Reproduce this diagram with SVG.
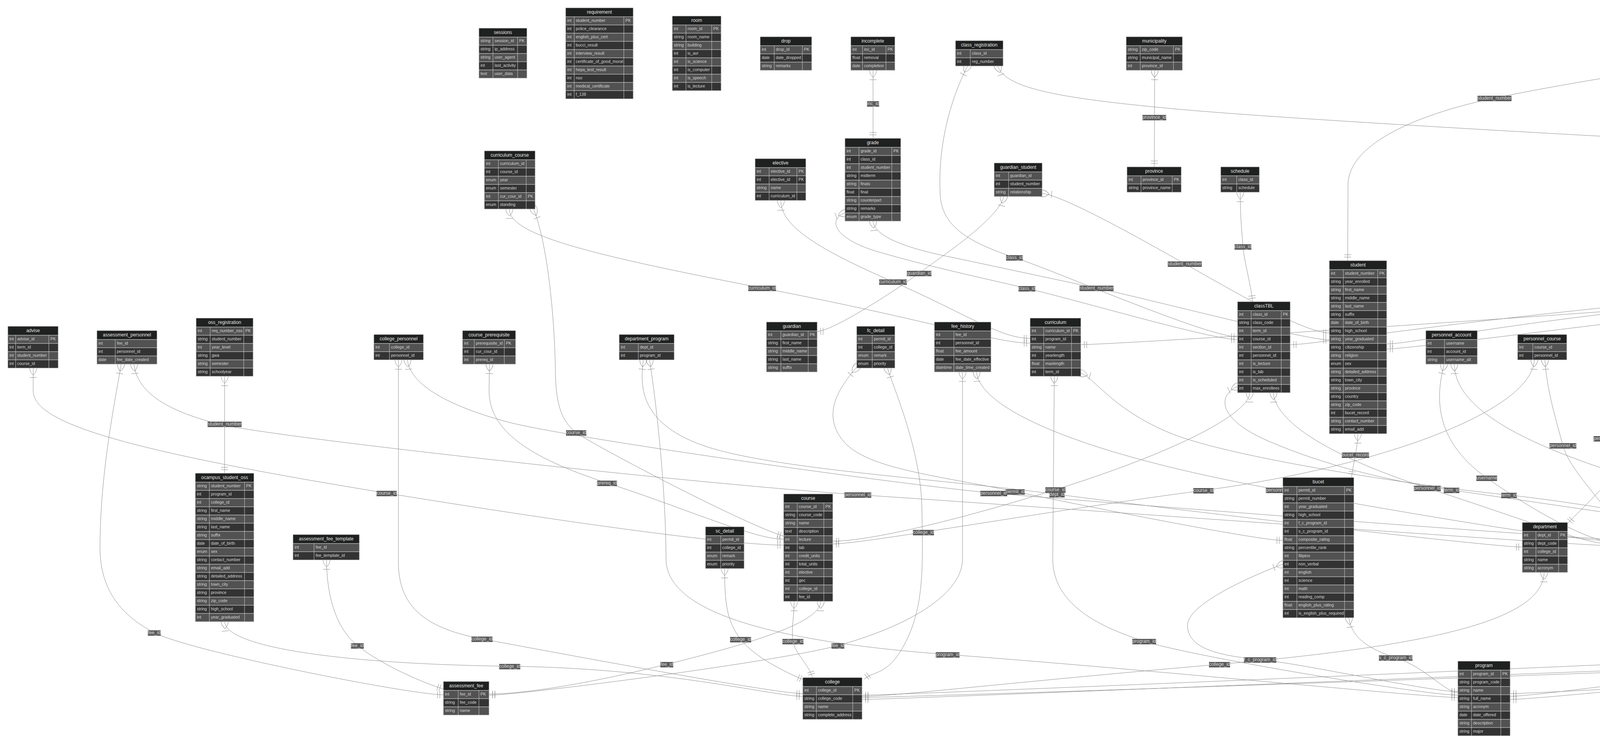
<svg xmlns="http://www.w3.org/2000/svg" width="7222" height="1904" viewBox="0 0 7222 1904">
<style>
.hd{fill:#1f2020;stroke:#cccccc;stroke-width:1}
.ro{fill:#525252;stroke:#cccccc;stroke-width:1}
.re{fill:#333333;stroke:#cccccc;stroke-width:1}
.cs{stroke:#cccccc;stroke-width:1;fill:none}
.t{font-family:"Liberation Sans",Arial,sans-serif;font-size:12px;fill:#e6e6e6;text-anchor:middle}
.a{font-family:"Liberation Sans",Arial,sans-serif;font-size:10.5px;fill:#d4d4d4}
#connectors path{fill:none;stroke:#8c8c8c;stroke-width:1;marker-start:url(#many);marker-end:url(#one)}
.lr{fill:#5a5a5a}
.lt{font-family:"Liberation Sans",Arial,sans-serif;font-size:12px;fill:#d8d8d8;text-anchor:middle}
</style>
<defs>
<marker id="many" markerWidth="45" markerHeight="36" refX="18" refY="18" orient="auto" markerUnits="userSpaceOnUse" overflow="visible"><path d="M0,18 Q18,0 36,18 Q18,36 0,18 M42,9 L42,27" fill="none" stroke="#8c8c8c" stroke-width="1"/></marker>
<marker id="one" markerWidth="18" markerHeight="18" refX="18" refY="9" orient="auto" markerUnits="userSpaceOnUse" overflow="visible"><path d="M3,0 L3,18 M9,0 L9,18" fill="none" stroke="#8c8c8c" stroke-width="1"/></marker>
</defs>
<rect width="7222" height="1904" fill="#ffffff"/>
<g id="connectors">
<path d="M2235,180 L2235,354"/>
<path d="M1304,535 C1304,600 1500,650 1951,737 S2550,878 2637,878"/>
<path d="M1999,514 C1999,580 2100,640 2286,721 S2560,866 2637,866"/>
<path d="M2570,503 C2555,560 2420,650 2353,699 S2130,848 2092,848"/>
<path d="M2668,495 C2720,500 2900,600 3033,675 S3340,852 3403,852"/>
<path d="M2956,180 L2955,427"/>
<path d="M3175,492 C3175,560 3180,600 3182,631 S3200,720 3207,772"/>
<path d="M2477,169 C2430,260 2400,380 2407,500 C2412,580 2480,620 2597,659 S3090,862 3168,862"/>
<path d="M2554,169 C2575,225 2700,250 3000,278 S4200,355 4490,369 S6330,453 6448,453"/>
<path d="M4609,145 C4700,150 5200,195 5537,228 S6390,350 6448,386"/>
<path d="M4495,147 C4300,165 4000,215 3826,251 S3455,360 3451,470 L3450,667"/>
<path d="M2163,545 C2120,560 2130,610 2250,645 S2500,708 2629,738 S3100,869 3168,869"/>
<path d="M2235,566 C2238,600 2300,630 2420,655 S2700,715 2807,737 S3340,870 3403,870"/>
<path d="M3476,1110 C3476,1130 3472,1150 3470,1164 S3462,1200 3460,1222"/>
<path d="M3199,1005 C3199,1060 3000,1160 2702,1253 S2210,1385 2132,1385"/>
<path d="M3260,1005 C3262,1060 3350,1150 3654,1249 S4060,1393 4132,1393"/>
<path d="M3168,989 C3120,1010 3110,1070 3250,1130 S3550,1230 3716,1254 S4650,1392 4721,1392"/>
<path d="M2699,963 L2695,1430 C2695,1540 2800,1600 2929,1641 S3650,1779 3732,1779"/>
<path d="M2767,955 C2800,965 2850,1050 3000,1110 S3600,1240 3863,1267 S4650,1400 4721,1400"/>
<path d="M2464,952 L2464,1430 C2464,1530 2300,1610 2145,1652 S1330,1779 1252,1779"/>
<path d="M2500,952 C2505,1030 2700,1150 3275,1254 S4060,1384 4132,1384"/>
<path d="M2101,1539 C2100,1590 1950,1640 1707,1700 S1320,1776 1252,1776"/>
<path d="M2033,1539 C2033,1580 2025,1610 2030,1641 S2070,1700 2080,1734"/>
<path d="M1855,1455 C1855,1540 1860,1590 1896,1636 S2010,1720 2058,1740"/>
<path d="M2272,942 C2290,1000 2357,1150 2360,1300 C2363,1450 2365,1550 2320,1640 S2240,1715 2212,1738"/>
<path d="M2193,940 C2150,990 2100,1060 2160,1130 S2400,1217 2599,1258 S3220,1383 3284,1383"/>
<path d="M1020,921 L1020,1440 C1020,1560 1100,1610 1234,1635 S1980,1775 2055,1775"/>
<path d="M1043,921 C1050,985 1150,1040 1300,1080 S2300,1240 2544,1262 S4050,1380 4132,1380"/>
<path d="M575,1591 C580,1660 900,1700 1305,1705 S1980,1782 2055,1782"/>
<path d="M575,963 L575,1211"/>
<path d="M85,942 L85,1000 C85,1080 300,1150 990,1262 S1930,1395 2006,1395"/>
<path d="M310,932 C300,1000 256,1200 256,1400 C256,1500 300,1570 395,1619 S1050,1778 1135,1778"/>
<path d="M343,932 C350,1000 420,1050 560,1085 S1800,1240 2196,1266 S4050,1397 4132,1397"/>
<path d="M836,1433 C836,1500 850,1600 915,1652 S1090,1750 1135,1763"/>
<path d="M1253,932 L1252,1000 C1252,1100 1350,1170 1554,1236 S1930,1380 2006,1380"/>
<path d="M1366,535 C1400,620 1420,800 1422,960 C1424,1040 1440,1080 1475,1107 S1900,1340 2006,1372"/>
<path d="M1647,921 C1640,980 1630,1080 1800,1140 S2400,1225 2706,1265 S3820,1400 3897,1400"/>
<path d="M1663,921 C1690,1100 1705,1300 1705,1430 C1705,1560 1950,1640 2426,1675 S3650,1785 3732,1785"/>
<path d="M3953,1465 C3950,1580 3700,1650 3122,1700 S2290,1782 2207,1782"/>
<path d="M3284,1444 C3240,1460 3040,1540 3040,1600 S3120,1678 3226,1688 S3660,1770 3732,1770"/>
<path d="M3453,1581 C3460,1630 3500,1660 3573,1683 S3700,1772 3732,1772"/>
<path d="M3697,932 C3680,1000 3660,1120 3806,1223 S4080,1388 4132,1388"/>
<path d="M3723,932 C3725,1010 3800,1120 4270,1249 S4860,1364 4939,1364"/>
<path d="M3928,921 C3920,1060 3500,1200 3081,1255 S2210,1392 2132,1392"/>
<path d="M3955,921 C3960,1000 3985,1080 4001,1140 S4100,1280 4127,1327"/>
<path d="M4167,921 C4150,1000 4110,1060 4114,1122 S4140,1280 4157,1327"/>
<path d="M4190,921 C4195,1000 4185,1100 4166,1156 S4050,1300 4013,1340"/>
<path d="M4487,932 C4480,1000 4450,1090 4413,1150 S4300,1290 4262,1330"/>
<path d="M4514,932 C4515,1000 4540,1080 4545,1146 S4553,1300 4553,1368"/>
<path d="M5186,921 C5100,1000 4950,1130 4755,1190 S4330,1378 4262,1378"/>
<path d="M5262,921 C5290,1100 5308,1300 5308,1430 C5308,1560 5100,1640 4889,1659 S3950,1782 3866,1782"/>
<path d="M5522,921 C5520,980 5500,1080 5496,1136 S5489,1300 5489,1358"/>
<path d="M5545,921 C5565,1000 5560,1100 5430,1212 S5100,1320 5027,1337"/>
<path d="M5740,492 C5735,540 5724,600 5724,642 S5755,740 5763,793"/>
<path d="M5774,492 C5780,570 5500,660 4569,743 S3380,882 3303,882"/>
<path d="M5996,503 C5980,560 5700,660 4795,735 S3630,880 3550,880"/>
<path d="M6051,503 L6050,1000 C6050,1090 5980,1130 5849,1171 S5200,1364 5114,1364"/>
<path d="M5757,984 C5750,1080 5600,1190 5340,1246 S4920,1380 4839,1380"/>
<path d="M5815,984 C5835,1100 5838,1250 5838,1430 C5838,1560 5500,1650 5118,1678 S3950,1790 3866,1790"/>
<path d="M5853,984 C5930,1120 5940,1300 5940,1440 C5940,1570 5600,1650 5002,1683 S2290,1785 2207,1785"/>
<path d="M6448,502 C6400,520 6300,590 6000,610 S5200,700 4714,748 S2850,882 2767,882"/>
<path d="M6448,517 C6380,540 6250,700 6250,900 C6250,1050 6150,1130 5848,1201 S4920,1385 4839,1385"/>
<path d="M6448,539 C6400,560 6350,700 6350,900 C6350,1070 6250,1150 5563,1233 S4340,1390 4262,1390"/>
<path d="M6627,562 C6640,600 6500,620 6000,652 S5300,705 5006,727 S3630,893 3550,893"/>
<path d="M6627,530 C6700,540 6775,620 6775,760 L6775,1430 C6775,1560 6400,1610 6000,1625 S4800,1670 4335,1691 S2290,1779 2207,1779"/>
<path d="M6550,566 L6551,824"/>
<path d="M6560,952 C6562,1000 6570,1100 6573,1148 S6577,1300 6577,1348"/>
<path d="M6530,952 C6525,1020 6300,1150 5730,1258 S4920,1398 4839,1398"/>
<path d="M6511,1455 C6480,1530 6300,1600 6000,1625 S5500,1680 5213,1699 S3950,1775 3866,1775"/>
<path d="M6592,1455 C6600,1530 6450,1600 6000,1622 S4900,1690 4437,1705 S2290,1790 2207,1790"/>
<path d="M7013,169 C6990,195 6900,260 6836,302 S6660,400 6627,415"/>
<path d="M7080,169 C7085,200 7092,230 7094,258 S7101,320 7101,354"/>
<path d="M7002,548 C6960,560 6935,620 6931,686 S6927,800 6927,851"/>
<path d="M7121,566 C7123,620 7126,660 7126,705 S7127,800 7127,851"/>
<g id="labels">
<rect class="lr" x="2219.5" y="259" width="31" height="14"/><text class="lt" x="2235" y="269">inc_id</text>
<rect class="lr" x="1915.5" y="731" width="71" height="14"/><text class="lt" x="1951" y="741">curriculum_id</text>
<rect class="lr" x="2250.5" y="715" width="71" height="14"/><text class="lt" x="2286" y="725">curriculum_id</text>
<rect class="lr" x="2321.5" y="693" width="63" height="14"/><text class="lt" x="2353" y="703">guardian_id</text>
<rect class="lr" x="2924.5" y="294" width="61" height="14"/><text class="lt" x="2955" y="304">province_id</text>
<rect class="lr" x="2575.5" y="653" width="43" height="14"/><text class="lt" x="2597" y="663">class_id</text>
<rect class="lr" x="2607.5" y="732" width="43" height="14"/><text class="lt" x="2629" y="742">class_id</text>
<rect class="lr" x="2763.5" y="731" width="87" height="14"/><text class="lt" x="2807" y="741">student_number</text>
<rect class="lr" x="2989.5" y="669" width="87" height="14"/><text class="lt" x="3033" y="679">student_number</text>
<rect class="lr" x="3160.5" y="625" width="43" height="14"/><text class="lt" x="3182" y="635">class_id</text>
<rect class="lr" x="3782.5" y="245" width="87" height="14"/><text class="lt" x="3826" y="255">student_number</text>
<rect class="lr" x="4457.5" y="363" width="65" height="14"/><text class="lt" x="4490" y="373">reg_number</text>
<rect class="lr" x="4547.5" y="737" width="43" height="14"/><text class="lt" x="4569" y="747">class_id</text>
<rect class="lr" x="4678.5" y="742" width="71" height="14"/><text class="lt" x="4714" y="752">curriculum_id</text>
<rect class="lr" x="4768.5" y="729" width="53" height="14"/><text class="lt" x="4795" y="739">username</text>
<rect class="lr" x="5504.5" y="222" width="65" height="14"/><text class="lt" x="5537" y="232">reg_number</text>
<rect class="lr" x="5697" y="636" width="54" height="14"/><text class="lt" x="5724" y="646">section_id</text>
<rect class="lr" x="4962.5" y="721" width="87" height="14"/><text class="lt" x="5006" y="731">student_number</text>
<rect class="lr" x="6803.5" y="296" width="65" height="14"/><text class="lt" x="6836" y="306">reg_number</text>
<rect class="lr" x="7056" y="252" width="76" height="14"/><text class="lt" x="7094" y="262">scholarship_id</text>
<rect class="lr" x="6508.5" y="687" width="85" height="14"/><text class="lt" x="6551" y="697">fee_template_id</text>
<rect class="lr" x="6887.5" y="680" width="87" height="14"/><text class="lt" x="6931" y="690">benefits_type_id</text>
<rect class="lr" x="7095.5" y="699" width="61" height="14"/><text class="lt" x="7126" y="709">benefits_id</text>
<rect class="lr" x="531.5" y="1079" width="87" height="14"/><text class="lt" x="575" y="1089">student_number</text>
<rect class="lr" x="964" y="1256" width="52" height="14"/><text class="lt" x="990" y="1266">course_id</text>
<rect class="lr" x="378.5" y="1613" width="33" height="14"/><text class="lt" x="395" y="1623">fee_id</text>
<rect class="lr" x="898.5" y="1646" width="33" height="14"/><text class="lt" x="915" y="1656">fee_id</text>
<rect class="lr" x="1449" y="1101" width="52" height="14"/><text class="lt" x="1475" y="1111">course_id</text>
<rect class="lr" x="1528.5" y="1230" width="51" height="14"/><text class="lt" x="1554" y="1240">prereq_id</text>
<rect class="lr" x="2161.5" y="1260" width="69" height="14"/><text class="lt" x="2196" y="1270">personnel_id</text>
<rect class="lr" x="2337" y="1356" width="54" height="14"/><text class="lt" x="2364" y="1366">college_id</text>
<rect class="lr" x="1207" y="1629" width="54" height="14"/><text class="lt" x="1234" y="1639">college_id</text>
<rect class="lr" x="1869" y="1630" width="54" height="14"/><text class="lt" x="1896" y="1640">college_id</text>
<rect class="lr" x="2003" y="1635" width="54" height="14"/><text class="lt" x="2030" y="1645">college_id</text>
<rect class="lr" x="2128.5" y="1646" width="33" height="14"/><text class="lt" x="2145" y="1656">fee_id</text>
<rect class="lr" x="1690.5" y="1694" width="33" height="14"/><text class="lt" x="1707" y="1704">fee_id</text>
<rect class="lr" x="1278" y="1699" width="54" height="14"/><text class="lt" x="1305" y="1709">college_id</text>
<rect class="lr" x="2395.5" y="1669" width="61" height="14"/><text class="lt" x="2426" y="1679">program_id</text>
<rect class="lr" x="2509.5" y="1256" width="69" height="14"/><text class="lt" x="2544" y="1266">personnel_id</text>
<rect class="lr" x="2574.5" y="1252" width="49" height="14"/><text class="lt" x="2599" y="1262">permit_id</text>
<rect class="lr" x="2676" y="1247" width="52" height="14"/><text class="lt" x="2702" y="1257">course_id</text>
<rect class="lr" x="2686.5" y="1259" width="39" height="14"/><text class="lt" x="2706" y="1269">dept_id</text>
<rect class="lr" x="3055" y="1249" width="52" height="14"/><text class="lt" x="3081" y="1259">course_id</text>
<rect class="lr" x="3240.5" y="1248" width="69" height="14"/><text class="lt" x="3275" y="1258">personnel_id</text>
<rect class="lr" x="3435" y="1158" width="70" height="14"/><text class="lt" x="3470" y="1168">bucet_record</text>
<rect class="lr" x="2898.5" y="1635" width="61" height="14"/><text class="lt" x="2929" y="1645">program_id</text>
<rect class="lr" x="3184.5" y="1682" width="83" height="14"/><text class="lt" x="3226" y="1692">f_c_program_id</text>
<rect class="lr" x="3095" y="1694" width="54" height="14"/><text class="lt" x="3122" y="1704">college_id</text>
<rect class="lr" x="3530" y="1677" width="86" height="14"/><text class="lt" x="3573" y="1687">s_c_program_id</text>
<rect class="lr" x="3966.5" y="1134" width="69" height="14"/><text class="lt" x="4001" y="1144">personnel_id</text>
<rect class="lr" x="4079.5" y="1116" width="69" height="14"/><text class="lt" x="4114" y="1126">personnel_id</text>
<rect class="lr" x="4146.5" y="1150" width="39" height="14"/><text class="lt" x="4166" y="1160">dept_id</text>
<rect class="lr" x="4378.5" y="1144" width="69" height="14"/><text class="lt" x="4413" y="1154">personnel_id</text>
<rect class="lr" x="4516.5" y="1140" width="57" height="14"/><text class="lt" x="4545" y="1150">position_id</text>
<rect class="lr" x="4720.5" y="1184" width="69" height="14"/><text class="lt" x="4755" y="1194">personnel_id</text>
<rect class="lr" x="3779.5" y="1217" width="53" height="14"/><text class="lt" x="3806" y="1227">username</text>
<rect class="lr" x="3619.5" y="1243" width="69" height="14"/><text class="lt" x="3654" y="1253">personnel_id</text>
<rect class="lr" x="3696" y="1248" width="40" height="14"/><text class="lt" x="3716" y="1258">term_id</text>
<rect class="lr" x="3843" y="1261" width="40" height="14"/><text class="lt" x="3863" y="1271">term_id</text>
<rect class="lr" x="4241" y="1243" width="58" height="14"/><text class="lt" x="4270" y="1253">account_id</text>
<rect class="lr" x="4308" y="1685" width="54" height="14"/><text class="lt" x="4335" y="1695">college_id</text>
<rect class="lr" x="4410" y="1699" width="54" height="14"/><text class="lt" x="4437" y="1709">college_id</text>
<rect class="lr" x="5466" y="1130" width="60" height="14"/><text class="lt" x="5496" y="1140">privilege_id</text>
<rect class="lr" x="5401" y="1206" width="58" height="14"/><text class="lt" x="5430" y="1216">account_id</text>
<rect class="lr" x="5320" y="1240" width="40" height="14"/><text class="lt" x="5340" y="1250">term_id</text>
<rect class="lr" x="5528.5" y="1227" width="69" height="14"/><text class="lt" x="5563" y="1237">personnel_id</text>
<rect class="lr" x="5820" y="1165" width="58" height="14"/><text class="lt" x="5849" y="1175">account_id</text>
<rect class="lr" x="5828" y="1195" width="40" height="14"/><text class="lt" x="5848" y="1205">term_id</text>
<rect class="lr" x="5710" y="1252" width="40" height="14"/><text class="lt" x="5730" y="1262">term_id</text>
<rect class="lr" x="4858.5" y="1653" width="61" height="14"/><text class="lt" x="4889" y="1663">program_id</text>
<rect class="lr" x="4975" y="1677" width="54" height="14"/><text class="lt" x="5002" y="1687">college_id</text>
<rect class="lr" x="5087.5" y="1672" width="61" height="14"/><text class="lt" x="5118" y="1682">program_id</text>
<rect class="lr" x="5182.5" y="1693" width="61" height="14"/><text class="lt" x="5213" y="1703">program_id</text>
<rect class="lr" x="6542" y="1142" width="62" height="14"/><text class="lt" x="6573" y="1152">prog_col_id</text>
</g>
</g>
<g id="advise">
<rect class="hd" x="20" y="835" width="129" height="23"/><text class="t" x="84.5" y="850">advise</text>
<rect class="ro" x="20" y="858" width="129" height="21"/><rect class="re" x="20" y="879" width="129" height="21"/><rect class="ro" x="20" y="900" width="129" height="21"/><rect class="re" x="20" y="921" width="129" height="21"/>
<path class="cs" d="M40,858V942M125,858V942"/>
<text class="a" x="24" y="871">int</text><text class="a" x="44" y="871">advise_id</text><text class="a" x="129" y="871">PK</text>
<text class="a" x="24" y="892">int</text><text class="a" x="44" y="892">term_id</text>
<text class="a" x="24" y="913">int</text><text class="a" x="44" y="913">student_number</text>
<text class="a" x="24" y="934">int</text><text class="a" x="44" y="934">course_id</text>
</g>
<g id="assessment_personnel">
<rect class="hd" x="248" y="846" width="154" height="23"/><text class="t" x="325" y="861">assessment_personnel</text>
<rect class="ro" x="248" y="869" width="154" height="21"/><rect class="re" x="248" y="890" width="154" height="21"/><rect class="ro" x="248" y="911" width="154" height="21"/>
<path class="cs" d="M295,869V932"/>
<text class="a" x="252" y="882">int</text><text class="a" x="299" y="882">fee_id</text>
<text class="a" x="252" y="903">int</text><text class="a" x="299" y="903">personnel_id</text>
<text class="a" x="252" y="924">date</text><text class="a" x="299" y="924">fee_date_created</text>
</g>
<g id="oss_registration">
<rect class="hd" x="502" y="814" width="146" height="23"/><text class="t" x="575" y="829">oss_registration</text>
<rect class="ro" x="502" y="837" width="146" height="21"/><rect class="re" x="502" y="858" width="146" height="21"/><rect class="ro" x="502" y="879" width="146" height="21"/><rect class="re" x="502" y="900" width="146" height="21"/><rect class="ro" x="502" y="921" width="146" height="21"/><rect class="re" x="502" y="942" width="146" height="21"/>
<path class="cs" d="M538,837V963M624,837V963"/>
<text class="a" x="506" y="850">int</text><text class="a" x="542" y="850">req_number_oss</text><text class="a" x="628" y="850">PK</text>
<text class="a" x="506" y="871">string</text><text class="a" x="542" y="871">student_number</text>
<text class="a" x="506" y="892">int</text><text class="a" x="542" y="892">year_level</text>
<text class="a" x="506" y="913">string</text><text class="a" x="542" y="913">gwa</text>
<text class="a" x="506" y="934">string</text><text class="a" x="542" y="934">semester</text>
<text class="a" x="506" y="955">string</text><text class="a" x="542" y="955">schoolyear</text>
</g>
<g id="college_personnel">
<rect class="hd" x="957" y="856" width="127" height="23"/><text class="t" x="1020.5" y="871">college_personnel</text>
<rect class="ro" x="957" y="879" width="127" height="21"/><rect class="re" x="957" y="900" width="127" height="21"/>
<path class="cs" d="M997,879V921"/>
<text class="a" x="961" y="892">int</text><text class="a" x="1001" y="892">college_id</text>
<text class="a" x="961" y="913">int</text><text class="a" x="1001" y="913">personnel_id</text>
</g>
<g id="course_prerequisite">
<rect class="hd" x="1184" y="846" width="136" height="23"/><text class="t" x="1252" y="861">course_prerequisite</text>
<rect class="ro" x="1184" y="869" width="136" height="21"/><rect class="re" x="1184" y="890" width="136" height="21"/><rect class="ro" x="1184" y="911" width="136" height="21"/>
<path class="cs" d="M1214,869V932M1291,869V932"/>
<text class="a" x="1188" y="882">int</text><text class="a" x="1218" y="882">prerequisite_id</text><text class="a" x="1295" y="882">PK</text>
<text class="a" x="1188" y="903">int</text><text class="a" x="1218" y="903">cur_cour_id</text>
<text class="a" x="1188" y="924">int</text><text class="a" x="1218" y="924">prereq_id</text>
</g>
<g id="sessions">
<rect class="hd" x="1226" y="72" width="123" height="23"/><text class="t" x="1287.5" y="87">sessions</text>
<rect class="ro" x="1226" y="95" width="123" height="21"/><rect class="re" x="1226" y="116" width="123" height="21"/><rect class="ro" x="1226" y="137" width="123" height="21"/><rect class="re" x="1226" y="158" width="123" height="21"/><rect class="ro" x="1226" y="179" width="123" height="21"/>
<path class="cs" d="M1262,95V200M1325,95V200"/>
<text class="a" x="1230" y="108">string</text><text class="a" x="1266" y="108">session_id</text><text class="a" x="1329" y="108">PK</text>
<text class="a" x="1230" y="129">string</text><text class="a" x="1266" y="129">ip_address</text>
<text class="a" x="1230" y="150">string</text><text class="a" x="1266" y="150">user_agent</text>
<text class="a" x="1230" y="171">int</text><text class="a" x="1266" y="171">last_activity</text>
<text class="a" x="1230" y="192">text</text><text class="a" x="1266" y="192">user_data</text>
</g>
<g id="requirement">
<rect class="hd" x="1448" y="20" width="173" height="23"/><text class="t" x="1534.5" y="35">requirement</text>
<rect class="ro" x="1448" y="43" width="173" height="21"/><rect class="re" x="1448" y="64" width="173" height="21"/><rect class="ro" x="1448" y="85" width="173" height="21"/><rect class="re" x="1448" y="106" width="173" height="21"/><rect class="ro" x="1448" y="127" width="173" height="21"/><rect class="re" x="1448" y="148" width="173" height="21"/><rect class="ro" x="1448" y="169" width="173" height="21"/><rect class="re" x="1448" y="190" width="173" height="21"/><rect class="ro" x="1448" y="211" width="173" height="21"/><rect class="re" x="1448" y="232" width="173" height="21"/>
<path class="cs" d="M1470,43V253M1597,43V253"/>
<text class="a" x="1452" y="56">int</text><text class="a" x="1474" y="56">student_number</text><text class="a" x="1601" y="56">PK</text>
<text class="a" x="1452" y="77">int</text><text class="a" x="1474" y="77">police_clearance</text>
<text class="a" x="1452" y="98">int</text><text class="a" x="1474" y="98">english_plus_cert</text>
<text class="a" x="1452" y="119">int</text><text class="a" x="1474" y="119">bucci_result</text>
<text class="a" x="1452" y="140">int</text><text class="a" x="1474" y="140">interview_result</text>
<text class="a" x="1452" y="161">int</text><text class="a" x="1474" y="161">certificate_of_good_moral</text>
<text class="a" x="1452" y="182">int</text><text class="a" x="1474" y="182">hepa_test_result</text>
<text class="a" x="1452" y="203">int</text><text class="a" x="1474" y="203">nso</text>
<text class="a" x="1452" y="224">int</text><text class="a" x="1474" y="224">medical_certificate</text>
<text class="a" x="1452" y="245">int</text><text class="a" x="1474" y="245">f_138</text>
</g>
<g id="room">
<rect class="hd" x="1721" y="41" width="125" height="23"/><text class="t" x="1783.5" y="56">room</text>
<rect class="ro" x="1721" y="64" width="125" height="21"/><rect class="re" x="1721" y="85" width="125" height="21"/><rect class="ro" x="1721" y="106" width="125" height="21"/><rect class="re" x="1721" y="127" width="125" height="21"/><rect class="ro" x="1721" y="148" width="125" height="21"/><rect class="re" x="1721" y="169" width="125" height="21"/><rect class="ro" x="1721" y="190" width="125" height="21"/><rect class="re" x="1721" y="211" width="125" height="21"/>
<path class="cs" d="M1756,64V232M1822,64V232"/>
<text class="a" x="1725" y="77">int</text><text class="a" x="1760" y="77">room_id</text><text class="a" x="1826" y="77">PK</text>
<text class="a" x="1725" y="98">string</text><text class="a" x="1760" y="98">room_name</text>
<text class="a" x="1725" y="119">string</text><text class="a" x="1760" y="119">building</text>
<text class="a" x="1725" y="140">int</text><text class="a" x="1760" y="140">is_avr</text>
<text class="a" x="1725" y="161">int</text><text class="a" x="1760" y="161">is_science</text>
<text class="a" x="1725" y="182">int</text><text class="a" x="1760" y="182">is_computer</text>
<text class="a" x="1725" y="203">int</text><text class="a" x="1760" y="203">is_speech</text>
<text class="a" x="1725" y="224">int</text><text class="a" x="1760" y="224">is_lecture</text>
</g>
<g id="drop">
<rect class="hd" x="1946" y="94" width="132" height="23"/><text class="t" x="2012" y="109">drop</text>
<rect class="ro" x="1946" y="117" width="132" height="21"/><rect class="re" x="1946" y="138" width="132" height="21"/><rect class="ro" x="1946" y="159" width="132" height="21"/>
<path class="cs" d="M1982,117V180M2054,117V180"/>
<text class="a" x="1950" y="130">int</text><text class="a" x="1986" y="130">drop_id</text><text class="a" x="2058" y="130">PK</text>
<text class="a" x="1950" y="151">date</text><text class="a" x="1986" y="151">date_dropped</text>
<text class="a" x="1950" y="172">string</text><text class="a" x="1986" y="172">remarks</text>
</g>
<g id="incomplete">
<rect class="hd" x="2178" y="94" width="113" height="23"/><text class="t" x="2234.5" y="109">incomplete</text>
<rect class="ro" x="2178" y="117" width="113" height="21"/><rect class="re" x="2178" y="138" width="113" height="21"/><rect class="ro" x="2178" y="159" width="113" height="21"/>
<path class="cs" d="M2208,117V180M2268,117V180"/>
<text class="a" x="2182" y="130">int</text><text class="a" x="2212" y="130">inc_id</text><text class="a" x="2272" y="130">PK</text>
<text class="a" x="2182" y="151">float</text><text class="a" x="2212" y="151">removal</text>
<text class="a" x="2182" y="172">date</text><text class="a" x="2212" y="172">completion</text>
</g>
<g id="curriculum_course">
<rect class="hd" x="1240" y="386" width="130" height="23"/><text class="t" x="1305" y="401">curriculum_course</text>
<rect class="ro" x="1240" y="409" width="130" height="21"/><rect class="re" x="1240" y="430" width="130" height="21"/><rect class="ro" x="1240" y="451" width="130" height="21"/><rect class="re" x="1240" y="472" width="130" height="21"/><rect class="ro" x="1240" y="493" width="130" height="21"/><rect class="re" x="1240" y="514" width="130" height="21"/>
<path class="cs" d="M1276,409V535M1347,409V535"/>
<text class="a" x="1244" y="422">int</text><text class="a" x="1280" y="422">curriculum_id</text>
<text class="a" x="1244" y="443">int</text><text class="a" x="1280" y="443">course_id</text>
<text class="a" x="1244" y="464">enum</text><text class="a" x="1280" y="464">year</text>
<text class="a" x="1244" y="485">enum</text><text class="a" x="1280" y="485">semester</text>
<text class="a" x="1244" y="506">int</text><text class="a" x="1280" y="506">cur_cour_id</text><text class="a" x="1351" y="506">PK</text>
<text class="a" x="1244" y="527">enum</text><text class="a" x="1280" y="527">standing</text>
</g>
<g id="elective">
<rect class="hd" x="1933" y="406" width="130" height="23"/><text class="t" x="1998" y="421">elective</text>
<rect class="ro" x="1933" y="429" width="130" height="21"/><rect class="re" x="1933" y="450" width="130" height="21"/><rect class="ro" x="1933" y="471" width="130" height="21"/><rect class="re" x="1933" y="492" width="130" height="21"/>
<path class="cs" d="M1969,429V513M2040,429V513"/>
<text class="a" x="1937" y="442">int</text><text class="a" x="1973" y="442">elective_id</text><text class="a" x="2044" y="442">PK</text>
<text class="a" x="1937" y="463">int</text><text class="a" x="1973" y="463">elective_id</text><text class="a" x="2044" y="463">PK</text>
<text class="a" x="1937" y="484">string</text><text class="a" x="1973" y="484">name</text>
<text class="a" x="1937" y="505">int</text><text class="a" x="1973" y="505">curriculum_id</text>
</g>
<g id="grade">
<rect class="hd" x="2163" y="354" width="143" height="23"/><text class="t" x="2234.5" y="369">grade</text>
<rect class="ro" x="2163" y="377" width="143" height="21"/><rect class="re" x="2163" y="398" width="143" height="21"/><rect class="ro" x="2163" y="419" width="143" height="21"/><rect class="re" x="2163" y="440" width="143" height="21"/><rect class="ro" x="2163" y="461" width="143" height="21"/><rect class="re" x="2163" y="482" width="143" height="21"/><rect class="ro" x="2163" y="503" width="143" height="21"/><rect class="re" x="2163" y="524" width="143" height="21"/><rect class="ro" x="2163" y="545" width="143" height="21"/>
<path class="cs" d="M2199,377V566M2283,377V566"/>
<text class="a" x="2167" y="390">int</text><text class="a" x="2203" y="390">grade_id</text><text class="a" x="2287" y="390">PK</text>
<text class="a" x="2167" y="411">int</text><text class="a" x="2203" y="411">class_id</text>
<text class="a" x="2167" y="432">int</text><text class="a" x="2203" y="432">student_number</text>
<text class="a" x="2167" y="453">string</text><text class="a" x="2203" y="453">midterm</text>
<text class="a" x="2167" y="474">string</text><text class="a" x="2203" y="474">finals</text>
<text class="a" x="2167" y="495">float</text><text class="a" x="2203" y="495">final</text>
<text class="a" x="2167" y="516">string</text><text class="a" x="2203" y="516">counterpart</text>
<text class="a" x="2167" y="537">string</text><text class="a" x="2203" y="537">remarks</text>
<text class="a" x="2167" y="558">enum</text><text class="a" x="2203" y="558">grade_type</text>
</g>
<g id="department_program">
<rect class="hd" x="1585" y="856" width="141" height="23"/><text class="t" x="1655.5" y="871">department_program</text>
<rect class="ro" x="1585" y="879" width="141" height="21"/><rect class="re" x="1585" y="900" width="141" height="21"/>
<path class="cs" d="M1634,879V921"/>
<text class="a" x="1589" y="892">int</text><text class="a" x="1638" y="892">dept_id</text>
<text class="a" x="1589" y="913">int</text><text class="a" x="1638" y="913">program_id</text>
</g>
<g id="guardian">
<rect class="hd" x="1962" y="824" width="130" height="23"/><text class="t" x="2027" y="839">guardian</text>
<rect class="ro" x="1962" y="847" width="130" height="21"/><rect class="re" x="1962" y="868" width="130" height="21"/><rect class="ro" x="1962" y="889" width="130" height="21"/><rect class="re" x="1962" y="910" width="130" height="21"/><rect class="ro" x="1962" y="931" width="130" height="21"/>
<path class="cs" d="M1999,847V952M2069,847V952"/>
<text class="a" x="1966" y="860">int</text><text class="a" x="2003" y="860">guardian_id</text><text class="a" x="2073" y="860">PK</text>
<text class="a" x="1966" y="881">string</text><text class="a" x="2003" y="881">first_name</text>
<text class="a" x="1966" y="902">string</text><text class="a" x="2003" y="902">middle_name</text>
<text class="a" x="1966" y="923">string</text><text class="a" x="2003" y="923">last_name</text>
<text class="a" x="1966" y="944">string</text><text class="a" x="2003" y="944">suffix</text>
</g>
<g id="fc_detail">
<rect class="hd" x="2193" y="835" width="98" height="23"/><text class="t" x="2242" y="850">fc_detail</text>
<rect class="ro" x="2193" y="858" width="98" height="21"/><rect class="re" x="2193" y="879" width="98" height="21"/><rect class="ro" x="2193" y="900" width="98" height="21"/><rect class="re" x="2193" y="921" width="98" height="21"/>
<path class="cs" d="M2233,858V942"/>
<text class="a" x="2197" y="871">int</text><text class="a" x="2237" y="871">permit_id</text>
<text class="a" x="2197" y="892">int</text><text class="a" x="2237" y="892">college_id</text>
<text class="a" x="2197" y="913">enum</text><text class="a" x="2237" y="913">remark</text>
<text class="a" x="2197" y="934">enum</text><text class="a" x="2237" y="934">priority</text>
</g>
<g id="fee_history">
<rect class="hd" x="2392" y="824" width="145" height="23"/><text class="t" x="2464.5" y="839">fee_history</text>
<rect class="ro" x="2392" y="847" width="145" height="21"/><rect class="re" x="2392" y="868" width="145" height="21"/><rect class="ro" x="2392" y="889" width="145" height="21"/><rect class="re" x="2392" y="910" width="145" height="21"/><rect class="ro" x="2392" y="931" width="145" height="21"/>
<path class="cs" d="M2442,847V952"/>
<text class="a" x="2396" y="860">int</text><text class="a" x="2446" y="860">fee_id</text>
<text class="a" x="2396" y="881">int</text><text class="a" x="2446" y="881">personnel_id</text>
<text class="a" x="2396" y="902">float</text><text class="a" x="2446" y="902">fee_amount</text>
<text class="a" x="2396" y="923">date</text><text class="a" x="2446" y="923">fee_date_effective</text>
<text class="a" x="2396" y="944">datetime</text><text class="a" x="2446" y="944">date_time_created</text>
</g>
<g id="class_registration">
<rect class="hd" x="2446" y="104" width="122" height="23"/><text class="t" x="2507" y="119">class_registration</text>
<rect class="ro" x="2446" y="127" width="122" height="21"/><rect class="re" x="2446" y="148" width="122" height="21"/>
<path class="cs" d="M2484,127V169"/>
<text class="a" x="2450" y="140">int</text><text class="a" x="2488" y="140">class_id</text>
<text class="a" x="2450" y="161">int</text><text class="a" x="2488" y="161">reg_number</text>
</g>
<g id="municipality">
<rect class="hd" x="2883" y="94" width="144" height="23"/><text class="t" x="2955" y="109">municipality</text>
<rect class="ro" x="2883" y="117" width="144" height="21"/><rect class="re" x="2883" y="138" width="144" height="21"/><rect class="ro" x="2883" y="159" width="144" height="21"/>
<path class="cs" d="M2919,117V180M3004,117V180"/>
<text class="a" x="2887" y="130">string</text><text class="a" x="2923" y="130">zip_code</text><text class="a" x="3008" y="130">PK</text>
<text class="a" x="2887" y="151">string</text><text class="a" x="2923" y="151">municipal_name</text>
<text class="a" x="2887" y="172">int</text><text class="a" x="2923" y="172">province_id</text>
</g>
<g id="guardian_student">
<rect class="hd" x="2545" y="417" width="123" height="23"/><text class="t" x="2606.5" y="432">guardian_student</text>
<rect class="ro" x="2545" y="440" width="123" height="21"/><rect class="re" x="2545" y="461" width="123" height="21"/><rect class="ro" x="2545" y="482" width="123" height="21"/>
<path class="cs" d="M2582,440V503"/>
<text class="a" x="2549" y="453">int</text><text class="a" x="2586" y="453">guardian_id</text>
<text class="a" x="2549" y="474">int</text><text class="a" x="2586" y="474">student_number</text>
<text class="a" x="2549" y="495">string</text><text class="a" x="2586" y="495">relationship</text>
</g>
<g id="province">
<rect class="hd" x="2885" y="427" width="139" height="23"/><text class="t" x="2954.5" y="442">province</text>
<rect class="ro" x="2885" y="450" width="139" height="21"/><rect class="re" x="2885" y="471" width="139" height="21"/>
<path class="cs" d="M2921,450V492M3001,450V492"/>
<text class="a" x="2889" y="463">int</text><text class="a" x="2925" y="463">province_id</text><text class="a" x="3005" y="463">PK</text>
<text class="a" x="2889" y="484">string</text><text class="a" x="2925" y="484">province_name</text>
</g>
<g id="schedule">
<rect class="hd" x="3125" y="427" width="99" height="23"/><text class="t" x="3174.5" y="442">schedule</text>
<rect class="ro" x="3125" y="450" width="99" height="21"/><rect class="re" x="3125" y="471" width="99" height="21"/>
<path class="cs" d="M3166,450V492"/>
<text class="a" x="3129" y="463">int</text><text class="a" x="3170" y="463">class_id</text>
<text class="a" x="3129" y="484">string</text><text class="a" x="3170" y="484">schedule</text>
</g>
<g id="student">
<rect class="hd" x="3403" y="667" width="147" height="23"/><text class="t" x="3476.5" y="682">student</text>
<rect class="ro" x="3403" y="690" width="147" height="21"/><rect class="re" x="3403" y="711" width="147" height="21"/><rect class="ro" x="3403" y="732" width="147" height="21"/><rect class="re" x="3403" y="753" width="147" height="21"/><rect class="ro" x="3403" y="774" width="147" height="21"/><rect class="re" x="3403" y="795" width="147" height="21"/><rect class="ro" x="3403" y="816" width="147" height="21"/><rect class="re" x="3403" y="837" width="147" height="21"/><rect class="ro" x="3403" y="858" width="147" height="21"/><rect class="re" x="3403" y="879" width="147" height="21"/><rect class="ro" x="3403" y="900" width="147" height="21"/><rect class="re" x="3403" y="921" width="147" height="21"/><rect class="ro" x="3403" y="942" width="147" height="21"/><rect class="re" x="3403" y="963" width="147" height="21"/><rect class="ro" x="3403" y="984" width="147" height="21"/><rect class="re" x="3403" y="1005" width="147" height="21"/><rect class="ro" x="3403" y="1026" width="147" height="21"/><rect class="re" x="3403" y="1047" width="147" height="21"/><rect class="ro" x="3403" y="1068" width="147" height="21"/><rect class="re" x="3403" y="1089" width="147" height="21"/>
<path class="cs" d="M3439,690V1110M3527,690V1110"/>
<text class="a" x="3407" y="703">int</text><text class="a" x="3443" y="703">student_number</text><text class="a" x="3531" y="703">PK</text>
<text class="a" x="3407" y="724">string</text><text class="a" x="3443" y="724">year_enrolled</text>
<text class="a" x="3407" y="745">string</text><text class="a" x="3443" y="745">first_name</text>
<text class="a" x="3407" y="766">string</text><text class="a" x="3443" y="766">middle_name</text>
<text class="a" x="3407" y="787">string</text><text class="a" x="3443" y="787">last_name</text>
<text class="a" x="3407" y="808">string</text><text class="a" x="3443" y="808">suffix</text>
<text class="a" x="3407" y="829">date</text><text class="a" x="3443" y="829">date_of_birth</text>
<text class="a" x="3407" y="850">string</text><text class="a" x="3443" y="850">high_school</text>
<text class="a" x="3407" y="871">string</text><text class="a" x="3443" y="871">year_graduated</text>
<text class="a" x="3407" y="892">string</text><text class="a" x="3443" y="892">citizenship</text>
<text class="a" x="3407" y="913">string</text><text class="a" x="3443" y="913">religion</text>
<text class="a" x="3407" y="934">enum</text><text class="a" x="3443" y="934">sex</text>
<text class="a" x="3407" y="955">string</text><text class="a" x="3443" y="955">detailed_address</text>
<text class="a" x="3407" y="976">string</text><text class="a" x="3443" y="976">town_city</text>
<text class="a" x="3407" y="997">string</text><text class="a" x="3443" y="997">province</text>
<text class="a" x="3407" y="1018">string</text><text class="a" x="3443" y="1018">country</text>
<text class="a" x="3407" y="1039">string</text><text class="a" x="3443" y="1039">zip_code</text>
<text class="a" x="3407" y="1060">int</text><text class="a" x="3443" y="1060">bucet_record</text>
<text class="a" x="3407" y="1081">string</text><text class="a" x="3443" y="1081">contact_number</text>
<text class="a" x="3407" y="1102">string</text><text class="a" x="3443" y="1102">email_add</text>
</g>
<g id="classTBL">
<rect class="hd" x="3168" y="772" width="135" height="23"/><text class="t" x="3235.5" y="787">classTBL</text>
<rect class="ro" x="3168" y="795" width="135" height="21"/><rect class="re" x="3168" y="816" width="135" height="21"/><rect class="ro" x="3168" y="837" width="135" height="21"/><rect class="re" x="3168" y="858" width="135" height="21"/><rect class="ro" x="3168" y="879" width="135" height="21"/><rect class="re" x="3168" y="900" width="135" height="21"/><rect class="ro" x="3168" y="921" width="135" height="21"/><rect class="re" x="3168" y="942" width="135" height="21"/><rect class="ro" x="3168" y="963" width="135" height="21"/><rect class="re" x="3168" y="984" width="135" height="21"/>
<path class="cs" d="M3203,795V1005M3280,795V1005"/>
<text class="a" x="3172" y="808">int</text><text class="a" x="3207" y="808">class_id</text><text class="a" x="3284" y="808">PK</text>
<text class="a" x="3172" y="829">string</text><text class="a" x="3207" y="829">class_code</text>
<text class="a" x="3172" y="850">int</text><text class="a" x="3207" y="850">term_id</text>
<text class="a" x="3172" y="871">int</text><text class="a" x="3207" y="871">course_id</text>
<text class="a" x="3172" y="892">int</text><text class="a" x="3207" y="892">section_id</text>
<text class="a" x="3172" y="913">int</text><text class="a" x="3207" y="913">personnel_id</text>
<text class="a" x="3172" y="934">int</text><text class="a" x="3207" y="934">is_lecture</text>
<text class="a" x="3172" y="955">int</text><text class="a" x="3207" y="955">is_lab</text>
<text class="a" x="3172" y="976">int</text><text class="a" x="3207" y="976">is_scheduled</text>
<text class="a" x="3172" y="997">int</text><text class="a" x="3207" y="997">max_enrollees</text>
</g>
<g id="curriculum">
<rect class="hd" x="2637" y="814" width="130" height="23"/><text class="t" x="2702" y="829">curriculum</text>
<rect class="ro" x="2637" y="837" width="130" height="21"/><rect class="re" x="2637" y="858" width="130" height="21"/><rect class="ro" x="2637" y="879" width="130" height="21"/><rect class="re" x="2637" y="900" width="130" height="21"/><rect class="ro" x="2637" y="921" width="130" height="21"/><rect class="re" x="2637" y="942" width="130" height="21"/>
<path class="cs" d="M2672,837V963M2743,837V963"/>
<text class="a" x="2641" y="850">int</text><text class="a" x="2676" y="850">curriculum_id</text><text class="a" x="2747" y="850">PK</text>
<text class="a" x="2641" y="871">int</text><text class="a" x="2676" y="871">program_id</text>
<text class="a" x="2641" y="892">string</text><text class="a" x="2676" y="892">name</text>
<text class="a" x="2641" y="913">int</text><text class="a" x="2676" y="913">yearlength</text>
<text class="a" x="2641" y="934">float</text><text class="a" x="2676" y="934">maxlength</text>
<text class="a" x="2641" y="955">int</text><text class="a" x="2676" y="955">term_id</text>
</g>
<g id="gwa">
<rect class="hd" x="4495" y="94" width="114" height="23"/><text class="t" x="4552" y="109">gwa</text>
<rect class="ro" x="4495" y="117" width="114" height="21"/><rect class="re" x="4495" y="138" width="114" height="21"/><rect class="ro" x="4495" y="159" width="114" height="21"/>
<path class="cs" d="M4524,117V180"/>
<text class="a" x="4499" y="130">int</text><text class="a" x="4528" y="130">student_number</text>
<text class="a" x="4499" y="151">int</text><text class="a" x="4528" y="151">reg_number</text>
<text class="a" x="4499" y="172">float</text><text class="a" x="4528" y="172">gwa</text>
</g>
<g id="personnel_account">
<rect class="hd" x="3650" y="846" width="132" height="23"/><text class="t" x="3716" y="861">personnel_account</text>
<rect class="ro" x="3650" y="869" width="132" height="21"/><rect class="re" x="3650" y="890" width="132" height="21"/><rect class="ro" x="3650" y="911" width="132" height="21"/>
<path class="cs" d="M3698,869V932"/>
<text class="a" x="3654" y="882">int</text><text class="a" x="3702" y="882">username</text>
<text class="a" x="3654" y="903">int</text><text class="a" x="3702" y="903">account_id</text>
<text class="a" x="3654" y="924">string</text><text class="a" x="3702" y="924">username_alt</text>
</g>
<g id="personnel_course">
<rect class="hd" x="3885" y="856" width="126" height="23"/><text class="t" x="3948" y="871">personnel_course</text>
<rect class="ro" x="3885" y="879" width="126" height="21"/><rect class="re" x="3885" y="900" width="126" height="21"/>
<path class="cs" d="M3924,879V921"/>
<text class="a" x="3889" y="892">int</text><text class="a" x="3928" y="892">course_id</text>
<text class="a" x="3889" y="913">int</text><text class="a" x="3928" y="913">personnel_id</text>
</g>
<g id="personnel_department">
<rect class="hd" x="4110" y="856" width="151" height="23"/><text class="t" x="4185.5" y="871">personnel_department</text>
<rect class="ro" x="4110" y="879" width="151" height="21"/><rect class="re" x="4110" y="900" width="151" height="21"/>
<path class="cs" d="M4162,879V921"/>
<text class="a" x="4114" y="892">int</text><text class="a" x="4166" y="892">personnel_id</text>
<text class="a" x="4114" y="913">int</text><text class="a" x="4166" y="913">dept_id</text>
</g>
<g id="personnel_position">
<rect class="hd" x="4438" y="846" width="130" height="23"/><text class="t" x="4503" y="861">personnel_position</text>
<rect class="ro" x="4438" y="869" width="130" height="21"/><rect class="re" x="4438" y="890" width="130" height="21"/><rect class="ro" x="4438" y="911" width="130" height="21"/>
<path class="cs" d="M4479,869V932"/>
<text class="a" x="4442" y="882">int</text><text class="a" x="4483" y="882">personnel_id</text>
<text class="a" x="4442" y="903">int</text><text class="a" x="4483" y="903">position_id</text>
<text class="a" x="4442" y="924">int</text><text class="a" x="4483" y="924">current</text>
</g>
<g id="section_class">
<rect class="hd" x="5706" y="427" width="102" height="23"/><text class="t" x="5757" y="442">section_class</text>
<rect class="ro" x="5706" y="450" width="102" height="21"/><rect class="re" x="5706" y="471" width="102" height="21"/>
<path class="cs" d="M5739,450V492"/>
<text class="a" x="5710" y="463">int</text><text class="a" x="5743" y="463">section_id</text>
<text class="a" x="5710" y="484">int</text><text class="a" x="5743" y="484">class_id</text>
</g>
<g id="student_account">
<rect class="hd" x="5993" y="417" width="118" height="23"/><text class="t" x="6052" y="432">student_account</text>
<rect class="ro" x="5993" y="440" width="118" height="21"/><rect class="re" x="5993" y="461" width="118" height="21"/><rect class="ro" x="5993" y="482" width="118" height="21"/>
<path class="cs" d="M6033,440V503"/>
<text class="a" x="5997" y="453">int</text><text class="a" x="6037" y="453">username</text>
<text class="a" x="5997" y="474">int</text><text class="a" x="6037" y="474">account_id</text>
<text class="a" x="5997" y="495">string</text><text class="a" x="6037" y="495">username_alt</text>
</g>
<g id="position_program">
<rect class="hd" x="5189" y="856" width="122" height="23"/><text class="t" x="5250" y="871">position_program</text>
<rect class="ro" x="5189" y="879" width="122" height="21"/><rect class="re" x="5189" y="900" width="122" height="21"/>
<path class="cs" d="M5226,879V921"/>
<text class="a" x="5193" y="892">int</text><text class="a" x="5230" y="892">personnel_id</text>
<text class="a" x="5193" y="913">int</text><text class="a" x="5230" y="913">program_id</text>
</g>
<g id="privilege_account">
<rect class="hd" x="5469" y="856" width="124" height="23"/><text class="t" x="5531" y="871">privilege_account</text>
<rect class="ro" x="5469" y="879" width="124" height="21"/><rect class="re" x="5469" y="900" width="124" height="21"/>
<path class="cs" d="M5510,879V921"/>
<text class="a" x="5473" y="892">int</text><text class="a" x="5514" y="892">privilege_id</text>
<text class="a" x="5473" y="913">int</text><text class="a" x="5514" y="913">account_id</text>
</g>
<g id="section">
<rect class="hd" x="5737" y="793" width="120" height="23"/><text class="t" x="5797" y="808">section</text>
<rect class="ro" x="5737" y="816" width="120" height="21"/><rect class="re" x="5737" y="837" width="120" height="21"/><rect class="ro" x="5737" y="858" width="120" height="21"/><rect class="re" x="5737" y="879" width="120" height="21"/><rect class="ro" x="5737" y="900" width="120" height="21"/><rect class="re" x="5737" y="921" width="120" height="21"/><rect class="ro" x="5737" y="942" width="120" height="21"/><rect class="re" x="5737" y="963" width="120" height="21"/>
<path class="cs" d="M5772,816V984M5834,816V984"/>
<text class="a" x="5741" y="829">int</text><text class="a" x="5776" y="829">section_id</text><text class="a" x="5838" y="829">PK</text>
<text class="a" x="5741" y="850">string</text><text class="a" x="5776" y="850">name</text>
<text class="a" x="5741" y="871">int</text><text class="a" x="5776" y="871">term_id</text>
<text class="a" x="5741" y="892">string</text><text class="a" x="5776" y="892">major</text>
<text class="a" x="5741" y="913">string</text><text class="a" x="5776" y="913">section</text>
<text class="a" x="5741" y="934">int</text><text class="a" x="5776" y="934">year</text>
<text class="a" x="5741" y="955">int</text><text class="a" x="5776" y="955">program_id</text>
<text class="a" x="5741" y="976">int</text><text class="a" x="5776" y="976">college_id</text>
</g>
<g id="scholarship_registration">
<rect class="hd" x="6994" y="104" width="157" height="23"/><text class="t" x="7072.5" y="119">scholarship_registration</text>
<rect class="ro" x="6994" y="127" width="157" height="21"/><rect class="re" x="6994" y="148" width="157" height="21"/>
<path class="cs" d="M7045,127V169"/>
<text class="a" x="6998" y="140">int</text><text class="a" x="7049" y="140">reg_number</text>
<text class="a" x="6998" y="161">int</text><text class="a" x="7049" y="161">scholarship_id</text>
</g>
<g id="registration">
<rect class="hd" x="6448" y="354" width="179" height="23"/><text class="t" x="6537.5" y="369">registration</text>
<rect class="ro" x="6448" y="377" width="179" height="21"/><rect class="re" x="6448" y="398" width="179" height="21"/><rect class="ro" x="6448" y="419" width="179" height="21"/><rect class="re" x="6448" y="440" width="179" height="21"/><rect class="ro" x="6448" y="461" width="179" height="21"/><rect class="re" x="6448" y="482" width="179" height="21"/><rect class="ro" x="6448" y="503" width="179" height="21"/><rect class="re" x="6448" y="524" width="179" height="21"/><rect class="ro" x="6448" y="545" width="179" height="21"/>
<path class="cs" d="M6505,377V566M6603,377V566"/>
<text class="a" x="6452" y="390">int</text><text class="a" x="6509" y="390">reg_number</text><text class="a" x="6607" y="390">PK</text>
<text class="a" x="6452" y="411">int</text><text class="a" x="6509" y="411">student_number</text>
<text class="a" x="6452" y="432">int</text><text class="a" x="6509" y="432">term_id</text>
<text class="a" x="6452" y="453">int</text><text class="a" x="6509" y="453">personnel_id</text>
<text class="a" x="6452" y="474">int</text><text class="a" x="6509" y="474">fee_template_id</text>
<text class="a" x="6452" y="495">int</text><text class="a" x="6509" y="495">curriculum_id</text>
<text class="a" x="6452" y="516">int</text><text class="a" x="6509" y="516">college_id</text>
<text class="a" x="6452" y="537">enum</text><text class="a" x="6509" y="537">year_level</text>
<text class="a" x="6452" y="558">timestamp</text><text class="a" x="6509" y="558">datetime_assessed</text>
</g>
<g id="scholarship">
<rect class="hd" x="7002" y="354" width="200" height="23"/><text class="t" x="7102" y="369">scholarship</text>
<rect class="ro" x="7002" y="377" width="200" height="21"/><rect class="re" x="7002" y="398" width="200" height="21"/><rect class="ro" x="7002" y="419" width="200" height="21"/><rect class="re" x="7002" y="440" width="200" height="21"/><rect class="ro" x="7002" y="461" width="200" height="21"/><rect class="re" x="7002" y="482" width="200" height="21"/><rect class="ro" x="7002" y="503" width="200" height="21"/><rect class="re" x="7002" y="524" width="200" height="21"/><rect class="ro" x="7002" y="545" width="200" height="21"/>
<path class="cs" d="M7037,377V566M7178,377V566"/>
<text class="a" x="7006" y="390">int</text><text class="a" x="7041" y="390">scholarship_id</text><text class="a" x="7182" y="390">PK</text>
<text class="a" x="7006" y="411">string</text><text class="a" x="7041" y="411">scholarship_name</text>
<text class="a" x="7006" y="432">string</text><text class="a" x="7041" y="432">scholarship_contact_number</text>
<text class="a" x="7006" y="453">string</text><text class="a" x="7041" y="453">email_address</text>
<text class="a" x="7006" y="474">string</text><text class="a" x="7041" y="474">type</text>
<text class="a" x="7006" y="495">int</text><text class="a" x="7041" y="495">scholarship_type</text>
<text class="a" x="7006" y="516">int</text><text class="a" x="7041" y="516">amount</text>
<text class="a" x="7006" y="537">string</text><text class="a" x="7041" y="537">status</text>
<text class="a" x="7006" y="558">string</text><text class="a" x="7041" y="558">specifications</text>
</g>
<g id="fee_template">
<rect class="hd" x="6482" y="824" width="141" height="23"/><text class="t" x="6552.5" y="839">fee_template</text>
<rect class="ro" x="6482" y="847" width="141" height="21"/><rect class="re" x="6482" y="868" width="141" height="21"/><rect class="ro" x="6482" y="889" width="141" height="21"/><rect class="re" x="6482" y="910" width="141" height="21"/><rect class="ro" x="6482" y="931" width="141" height="21"/>
<path class="cs" d="M6517,847V952M6599,847V952"/>
<text class="a" x="6486" y="860">int</text><text class="a" x="6521" y="860">fee_template_id</text><text class="a" x="6603" y="860">PK</text>
<text class="a" x="6486" y="881">string</text><text class="a" x="6521" y="881">template_name</text>
<text class="a" x="6486" y="902">int</text><text class="a" x="6521" y="902">term_id</text>
<text class="a" x="6486" y="923">int</text><text class="a" x="6521" y="923">prog_col_id</text>
<text class="a" x="6486" y="944">int</text><text class="a" x="6521" y="944">year</text>
</g>
<g id="benefits_list">
<rect class="hd" x="6878" y="851" width="100" height="75"/><text class="t" x="6928" y="893">benefits_list</text>
</g>
<g id="benefits">
<rect class="hd" x="7077" y="851" width="100" height="75"/><text class="t" x="7127" y="893">benefits</text>
</g>
<g id="ocampus_student_oss">
<rect class="hd" x="500" y="1211" width="150" height="23"/><text class="t" x="575" y="1226">ocampus_student_oss</text>
<rect class="ro" x="500" y="1234" width="150" height="21"/><rect class="re" x="500" y="1255" width="150" height="21"/><rect class="ro" x="500" y="1276" width="150" height="21"/><rect class="re" x="500" y="1297" width="150" height="21"/><rect class="ro" x="500" y="1318" width="150" height="21"/><rect class="re" x="500" y="1339" width="150" height="21"/><rect class="ro" x="500" y="1360" width="150" height="21"/><rect class="re" x="500" y="1381" width="150" height="21"/><rect class="ro" x="500" y="1402" width="150" height="21"/><rect class="re" x="500" y="1423" width="150" height="21"/><rect class="ro" x="500" y="1444" width="150" height="21"/><rect class="re" x="500" y="1465" width="150" height="21"/><rect class="ro" x="500" y="1486" width="150" height="21"/><rect class="re" x="500" y="1507" width="150" height="21"/><rect class="ro" x="500" y="1528" width="150" height="21"/><rect class="re" x="500" y="1549" width="150" height="21"/><rect class="ro" x="500" y="1570" width="150" height="21"/>
<path class="cs" d="M536,1234V1591M626,1234V1591"/>
<text class="a" x="504" y="1247">string</text><text class="a" x="540" y="1247">student_number</text><text class="a" x="630" y="1247">PK</text>
<text class="a" x="504" y="1268">int</text><text class="a" x="540" y="1268">program_id</text>
<text class="a" x="504" y="1289">int</text><text class="a" x="540" y="1289">college_id</text>
<text class="a" x="504" y="1310">string</text><text class="a" x="540" y="1310">first_name</text>
<text class="a" x="504" y="1331">string</text><text class="a" x="540" y="1331">middle_name</text>
<text class="a" x="504" y="1352">string</text><text class="a" x="540" y="1352">last_name</text>
<text class="a" x="504" y="1373">string</text><text class="a" x="540" y="1373">suffix</text>
<text class="a" x="504" y="1394">date</text><text class="a" x="540" y="1394">date_of_birth</text>
<text class="a" x="504" y="1415">enum</text><text class="a" x="540" y="1415">sex</text>
<text class="a" x="504" y="1436">string</text><text class="a" x="540" y="1436">contact_number</text>
<text class="a" x="504" y="1457">string</text><text class="a" x="540" y="1457">email_add</text>
<text class="a" x="504" y="1478">string</text><text class="a" x="540" y="1478">detailed_address</text>
<text class="a" x="504" y="1499">string</text><text class="a" x="540" y="1499">town_city</text>
<text class="a" x="504" y="1520">string</text><text class="a" x="540" y="1520">province</text>
<text class="a" x="504" y="1541">string</text><text class="a" x="540" y="1541">zip_code</text>
<text class="a" x="504" y="1562">string</text><text class="a" x="540" y="1562">high_school</text>
<text class="a" x="504" y="1583">int</text><text class="a" x="540" y="1583">year_graduated</text>
</g>
<g id="assessment_fee_template">
<rect class="hd" x="750" y="1368" width="170" height="23"/><text class="t" x="835" y="1383">assessment_fee_template</text>
<rect class="ro" x="750" y="1391" width="170" height="21"/><rect class="re" x="750" y="1412" width="170" height="21"/>
<path class="cs" d="M804,1391V1433"/>
<text class="a" x="754" y="1404">int</text><text class="a" x="808" y="1404">fee_id</text>
<text class="a" x="754" y="1425">int</text><text class="a" x="808" y="1425">fee_template_id</text>
</g>
<g id="assessment_fee">
<rect class="hd" x="1135" y="1744" width="117" height="23"/><text class="t" x="1193.5" y="1759">assessment_fee</text>
<rect class="ro" x="1135" y="1767" width="117" height="21"/><rect class="re" x="1135" y="1788" width="117" height="21"/><rect class="ro" x="1135" y="1809" width="117" height="21"/>
<path class="cs" d="M1173,1767V1830M1226,1767V1830"/>
<text class="a" x="1139" y="1780">int</text><text class="a" x="1177" y="1780">fee_id</text><text class="a" x="1230" y="1780">PK</text>
<text class="a" x="1139" y="1801">string</text><text class="a" x="1177" y="1801">fee_code</text>
<text class="a" x="1139" y="1822">string</text><text class="a" x="1177" y="1822">name</text>
</g>
<g id="course">
<rect class="hd" x="2006" y="1264" width="126" height="23"/><text class="t" x="2069" y="1279">course</text>
<rect class="ro" x="2006" y="1287" width="126" height="21"/><rect class="re" x="2006" y="1308" width="126" height="21"/><rect class="ro" x="2006" y="1329" width="126" height="21"/><rect class="re" x="2006" y="1350" width="126" height="21"/><rect class="ro" x="2006" y="1371" width="126" height="21"/><rect class="re" x="2006" y="1392" width="126" height="21"/><rect class="ro" x="2006" y="1413" width="126" height="21"/><rect class="re" x="2006" y="1434" width="126" height="21"/><rect class="ro" x="2006" y="1455" width="126" height="21"/><rect class="re" x="2006" y="1476" width="126" height="21"/><rect class="ro" x="2006" y="1497" width="126" height="21"/><rect class="re" x="2006" y="1518" width="126" height="21"/>
<path class="cs" d="M2041,1287V1539M2109,1287V1539"/>
<text class="a" x="2010" y="1300">int</text><text class="a" x="2045" y="1300">course_id</text><text class="a" x="2113" y="1300">PK</text>
<text class="a" x="2010" y="1321">string</text><text class="a" x="2045" y="1321">course_code</text>
<text class="a" x="2010" y="1342">string</text><text class="a" x="2045" y="1342">name</text>
<text class="a" x="2010" y="1363">text</text><text class="a" x="2045" y="1363">description</text>
<text class="a" x="2010" y="1384">int</text><text class="a" x="2045" y="1384">lecture</text>
<text class="a" x="2010" y="1405">int</text><text class="a" x="2045" y="1405">lab</text>
<text class="a" x="2010" y="1426">int</text><text class="a" x="2045" y="1426">credit_units</text>
<text class="a" x="2010" y="1447">int</text><text class="a" x="2045" y="1447">total_units</text>
<text class="a" x="2010" y="1468">int</text><text class="a" x="2045" y="1468">elective</text>
<text class="a" x="2010" y="1489">int</text><text class="a" x="2045" y="1489">gec</text>
<text class="a" x="2010" y="1510">int</text><text class="a" x="2045" y="1510">college_id</text>
<text class="a" x="2010" y="1531">int</text><text class="a" x="2045" y="1531">fee_id</text>
</g>
<g id="sc_detail">
<rect class="hd" x="1806" y="1348" width="99" height="23"/><text class="t" x="1855.5" y="1363">sc_detail</text>
<rect class="ro" x="1806" y="1371" width="99" height="21"/><rect class="re" x="1806" y="1392" width="99" height="21"/><rect class="ro" x="1806" y="1413" width="99" height="21"/><rect class="re" x="1806" y="1434" width="99" height="21"/>
<path class="cs" d="M1845,1371V1455"/>
<text class="a" x="1810" y="1384">int</text><text class="a" x="1849" y="1384">permit_id</text>
<text class="a" x="1810" y="1405">int</text><text class="a" x="1849" y="1405">college_id</text>
<text class="a" x="1810" y="1426">enum</text><text class="a" x="1849" y="1426">remark</text>
<text class="a" x="1810" y="1447">enum</text><text class="a" x="1849" y="1447">priority</text>
</g>
<g id="college">
<rect class="hd" x="2055" y="1734" width="152" height="23"/><text class="t" x="2131" y="1749">college</text>
<rect class="ro" x="2055" y="1757" width="152" height="21"/><rect class="re" x="2055" y="1778" width="152" height="21"/><rect class="ro" x="2055" y="1799" width="152" height="21"/><rect class="re" x="2055" y="1820" width="152" height="21"/>
<path class="cs" d="M2090,1757V1841M2183,1757V1841"/>
<text class="a" x="2059" y="1770">int</text><text class="a" x="2094" y="1770">college_id</text><text class="a" x="2187" y="1770">PK</text>
<text class="a" x="2059" y="1791">string</text><text class="a" x="2094" y="1791">college_code</text>
<text class="a" x="2059" y="1812">string</text><text class="a" x="2094" y="1812">name</text>
<text class="a" x="2059" y="1833">string</text><text class="a" x="2094" y="1833">complete_address</text>
</g>
<g id="bucet">
<rect class="hd" x="3284" y="1222" width="182" height="23"/><text class="t" x="3375" y="1237">bucet</text>
<rect class="ro" x="3284" y="1245" width="182" height="21"/><rect class="re" x="3284" y="1266" width="182" height="21"/><rect class="ro" x="3284" y="1287" width="182" height="21"/><rect class="re" x="3284" y="1308" width="182" height="21"/><rect class="ro" x="3284" y="1329" width="182" height="21"/><rect class="re" x="3284" y="1350" width="182" height="21"/><rect class="ro" x="3284" y="1371" width="182" height="21"/><rect class="re" x="3284" y="1392" width="182" height="21"/><rect class="ro" x="3284" y="1413" width="182" height="21"/><rect class="re" x="3284" y="1434" width="182" height="21"/><rect class="ro" x="3284" y="1455" width="182" height="21"/><rect class="re" x="3284" y="1476" width="182" height="21"/><rect class="ro" x="3284" y="1497" width="182" height="21"/><rect class="re" x="3284" y="1518" width="182" height="21"/><rect class="ro" x="3284" y="1539" width="182" height="21"/><rect class="re" x="3284" y="1560" width="182" height="21"/>
<path class="cs" d="M3320,1245V1581M3442,1245V1581"/>
<text class="a" x="3288" y="1258">int</text><text class="a" x="3324" y="1258">permit_id</text><text class="a" x="3446" y="1258">PK</text>
<text class="a" x="3288" y="1279">string</text><text class="a" x="3324" y="1279">permit_number</text>
<text class="a" x="3288" y="1300">int</text><text class="a" x="3324" y="1300">year_graduated</text>
<text class="a" x="3288" y="1321">string</text><text class="a" x="3324" y="1321">high_school</text>
<text class="a" x="3288" y="1342">int</text><text class="a" x="3324" y="1342">f_c_program_id</text>
<text class="a" x="3288" y="1363">int</text><text class="a" x="3324" y="1363">s_c_program_id</text>
<text class="a" x="3288" y="1384">float</text><text class="a" x="3324" y="1384">composite_rating</text>
<text class="a" x="3288" y="1405">string</text><text class="a" x="3324" y="1405">percentile_rank</text>
<text class="a" x="3288" y="1426">int</text><text class="a" x="3324" y="1426">filipino</text>
<text class="a" x="3288" y="1447">int</text><text class="a" x="3324" y="1447">non_verbal</text>
<text class="a" x="3288" y="1468">int</text><text class="a" x="3324" y="1468">english</text>
<text class="a" x="3288" y="1489">int</text><text class="a" x="3324" y="1489">science</text>
<text class="a" x="3288" y="1510">int</text><text class="a" x="3324" y="1510">math</text>
<text class="a" x="3288" y="1531">int</text><text class="a" x="3324" y="1531">reading_comp</text>
<text class="a" x="3288" y="1552">float</text><text class="a" x="3324" y="1552">english_plus_rating</text>
<text class="a" x="3288" y="1573">int</text><text class="a" x="3324" y="1573">is_english_plus_required</text>
</g>
<g id="department">
<rect class="hd" x="3897" y="1337" width="116" height="23"/><text class="t" x="3955" y="1352">department</text>
<rect class="ro" x="3897" y="1360" width="116" height="21"/><rect class="re" x="3897" y="1381" width="116" height="21"/><rect class="ro" x="3897" y="1402" width="116" height="21"/><rect class="re" x="3897" y="1423" width="116" height="21"/><rect class="ro" x="3897" y="1444" width="116" height="21"/>
<path class="cs" d="M3932,1360V1465M3990,1360V1465"/>
<text class="a" x="3901" y="1373">int</text><text class="a" x="3936" y="1373">dept_id</text><text class="a" x="3994" y="1373">PK</text>
<text class="a" x="3901" y="1394">string</text><text class="a" x="3936" y="1394">dept_code</text>
<text class="a" x="3901" y="1415">int</text><text class="a" x="3936" y="1415">college_id</text>
<text class="a" x="3901" y="1436">string</text><text class="a" x="3936" y="1436">name</text>
<text class="a" x="3901" y="1457">string</text><text class="a" x="3936" y="1457">acronym</text>
</g>
<g id="personnel">
<rect class="hd" x="4132" y="1327" width="130" height="23"/><text class="t" x="4197" y="1342">personnel</text>
<rect class="ro" x="4132" y="1350" width="130" height="21"/><rect class="re" x="4132" y="1371" width="130" height="21"/><rect class="ro" x="4132" y="1392" width="130" height="21"/><rect class="re" x="4132" y="1413" width="130" height="21"/><rect class="ro" x="4132" y="1434" width="130" height="21"/><rect class="re" x="4132" y="1455" width="130" height="21"/>
<path class="cs" d="M4167,1350V1476M4239,1350V1476"/>
<text class="a" x="4136" y="1363">int</text><text class="a" x="4171" y="1363">personnel_id</text><text class="a" x="4243" y="1363">PK</text>
<text class="a" x="4136" y="1384">string</text><text class="a" x="4171" y="1384">first_name</text>
<text class="a" x="4136" y="1405">string</text><text class="a" x="4171" y="1405">middle_name</text>
<text class="a" x="4136" y="1426">string</text><text class="a" x="4171" y="1426">last_name</text>
<text class="a" x="4136" y="1447">string</text><text class="a" x="4171" y="1447">suffix</text>
<text class="a" x="4136" y="1468">int</text><text class="a" x="4171" y="1468">is_active</text>
</g>
<g id="position">
<rect class="hd" x="4486" y="1368" width="135" height="23"/><text class="t" x="4553.5" y="1383">position</text>
<rect class="ro" x="4486" y="1391" width="135" height="21"/><rect class="re" x="4486" y="1412" width="135" height="21"/>
<path class="cs" d="M4521,1391V1433M4597,1391V1433"/>
<text class="a" x="4490" y="1404">int</text><text class="a" x="4525" y="1404">position_id</text><text class="a" x="4601" y="1404">PK</text>
<text class="a" x="4490" y="1425">string</text><text class="a" x="4525" y="1425">position_name</text>
</g>
<g id="term">
<rect class="hd" x="4721" y="1327" width="118" height="23"/><text class="t" x="4780" y="1342">term</text>
<rect class="ro" x="4721" y="1350" width="118" height="21"/><rect class="re" x="4721" y="1371" width="118" height="21"/><rect class="ro" x="4721" y="1392" width="118" height="21"/><rect class="re" x="4721" y="1413" width="118" height="21"/><rect class="ro" x="4721" y="1434" width="118" height="21"/><rect class="re" x="4721" y="1455" width="118" height="21"/>
<path class="cs" d="M4757,1350V1476M4815,1350V1476"/>
<text class="a" x="4725" y="1363">int</text><text class="a" x="4761" y="1363">term_id</text><text class="a" x="4819" y="1363">PK</text>
<text class="a" x="4725" y="1384">string</text><text class="a" x="4761" y="1384">term_code</text>
<text class="a" x="4725" y="1405">string</text><text class="a" x="4761" y="1405">name</text>
<text class="a" x="4725" y="1426">string</text><text class="a" x="4761" y="1426">year_start</text>
<text class="a" x="4725" y="1447">string</text><text class="a" x="4761" y="1447">year_end</text>
<text class="a" x="4725" y="1468">enum</text><text class="a" x="4761" y="1468">type</text>
</g>
<g id="program">
<rect class="hd" x="3732" y="1692" width="134" height="23"/><text class="t" x="3799" y="1707">program</text>
<rect class="ro" x="3732" y="1715" width="134" height="21"/><rect class="re" x="3732" y="1736" width="134" height="21"/><rect class="ro" x="3732" y="1757" width="134" height="21"/><rect class="re" x="3732" y="1778" width="134" height="21"/><rect class="ro" x="3732" y="1799" width="134" height="21"/><rect class="re" x="3732" y="1820" width="134" height="21"/><rect class="ro" x="3732" y="1841" width="134" height="21"/><rect class="re" x="3732" y="1862" width="134" height="21"/>
<path class="cs" d="M3767,1715V1883M3842,1715V1883"/>
<text class="a" x="3736" y="1728">int</text><text class="a" x="3771" y="1728">program_id</text><text class="a" x="3846" y="1728">PK</text>
<text class="a" x="3736" y="1749">string</text><text class="a" x="3771" y="1749">program_code</text>
<text class="a" x="3736" y="1770">string</text><text class="a" x="3771" y="1770">name</text>
<text class="a" x="3736" y="1791">string</text><text class="a" x="3771" y="1791">full_name</text>
<text class="a" x="3736" y="1812">string</text><text class="a" x="3771" y="1812">acronym</text>
<text class="a" x="3736" y="1833">date</text><text class="a" x="3771" y="1833">date_offered</text>
<text class="a" x="3736" y="1854">string</text><text class="a" x="3771" y="1854">description</text>
<text class="a" x="3736" y="1875">string</text><text class="a" x="3771" y="1875">major</text>
</g>
<g id="account">
<rect class="hd" x="4939" y="1337" width="175" height="23"/><text class="t" x="5026.5" y="1352">account</text>
<rect class="ro" x="4939" y="1360" width="175" height="21"/><rect class="re" x="4939" y="1381" width="175" height="21"/><rect class="ro" x="4939" y="1402" width="175" height="21"/><rect class="re" x="4939" y="1423" width="175" height="21"/><rect class="ro" x="4939" y="1444" width="175" height="21"/>
<path class="cs" d="M4996,1360V1465M5091,1360V1465"/>
<text class="a" x="4943" y="1373">int</text><text class="a" x="5000" y="1373">account_id</text><text class="a" x="5095" y="1373">PK</text>
<text class="a" x="4943" y="1394">enum</text><text class="a" x="5000" y="1394">account_type</text>
<text class="a" x="4943" y="1415">string</text><text class="a" x="5000" y="1415">passwd</text>
<text class="a" x="4943" y="1436">datetime</text><text class="a" x="5000" y="1436">date_time_created</text>
<text class="a" x="4943" y="1457">timestamp</text><text class="a" x="5000" y="1457">last_update</text>
</g>
<g id="privilege">
<rect class="hd" x="5409" y="1358" width="161" height="23"/><text class="t" x="5489.5" y="1373">privilege</text>
<rect class="ro" x="5409" y="1381" width="161" height="21"/><rect class="re" x="5409" y="1402" width="161" height="21"/><rect class="ro" x="5409" y="1423" width="161" height="21"/>
<path class="cs" d="M5444,1381V1444M5547,1381V1444"/>
<text class="a" x="5413" y="1394">int</text><text class="a" x="5448" y="1394">privilege_id</text><text class="a" x="5551" y="1394">PK</text>
<text class="a" x="5413" y="1415">string</text><text class="a" x="5448" y="1415">privilege_name</text>
<text class="a" x="5413" y="1436">string</text><text class="a" x="5448" y="1436">privilege_description</text>
</g>
<g id="program_college">
<rect class="hd" x="6495" y="1348" width="164" height="23"/><text class="t" x="6577" y="1363">program_college</text>
<rect class="ro" x="6495" y="1371" width="164" height="21"/><rect class="re" x="6495" y="1392" width="164" height="21"/><rect class="ro" x="6495" y="1413" width="164" height="21"/><rect class="re" x="6495" y="1434" width="164" height="21"/>
<path class="cs" d="M6525,1371V1455M6636,1371V1455"/>
<text class="a" x="6499" y="1384">int</text><text class="a" x="6529" y="1384">prog_col_id</text><text class="a" x="6640" y="1384">PK</text>
<text class="a" x="6499" y="1405">int</text><text class="a" x="6529" y="1405">program_id</text>
<text class="a" x="6499" y="1426">int</text><text class="a" x="6529" y="1426">college_id</text>
<text class="a" x="6499" y="1447">date</text><text class="a" x="6529" y="1447">program_date_offered</text>
</g>
</svg>
